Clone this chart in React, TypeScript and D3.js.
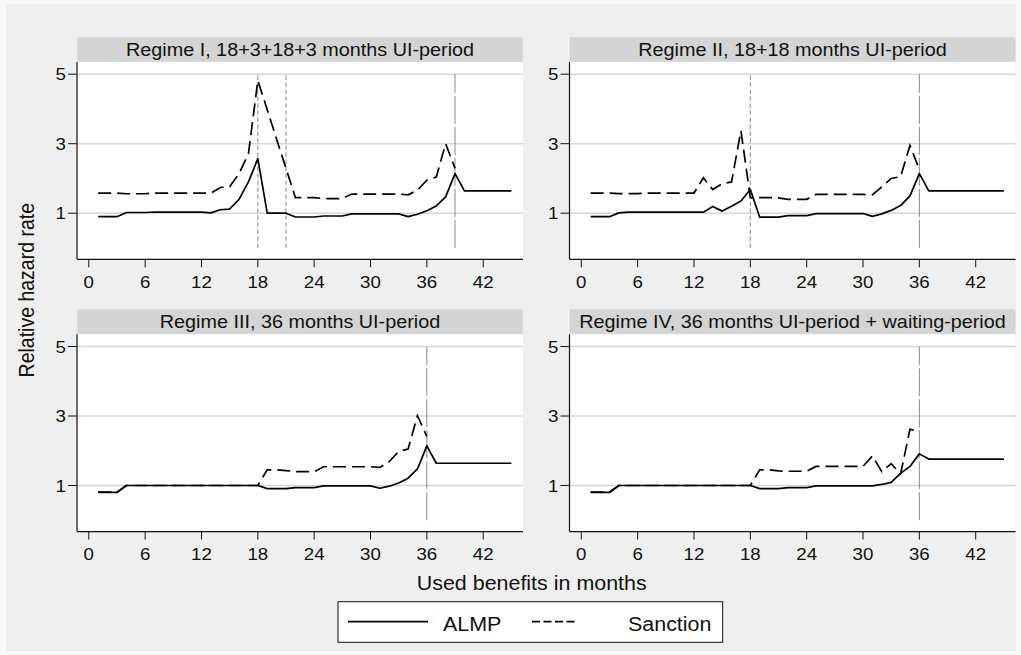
import React from 'react';
import * as d3 from 'd3';

const months = [1,2,3,4,5,6,7,8,9,10,11,12,13,14,15,16,17,18,19,20,21,22,23,24,25,26,27,28,29,30,31,32,33,34,35,36,37,38,39,40,41,42,43,44,45];
const xTicks = [0, 6, 12, 18, 24, 30, 36, 42];
const yTicks = [1, 3, 5];
const seriesNames = ['ALMP', 'Sanction'];
const titles = [
  'Regime I, 18+3+18+3 months UI-period',
  'Regime II, 18+18 months UI-period',
  'Regime III, 36 months UI-period',
  'Regime IV, 36 months UI-period + waiting-period',
];

const almpI = [0.90,0.90,0.90,1.02,1.02,1.02,1.03,1.03,1.03,1.03,1.03,1.03,1.01,1.10,1.12,1.40,1.90,2.57,1.00,1.00,1.00,0.89,0.89,0.89,0.92,0.92,0.92,0.98,0.98,0.98,0.98,0.98,0.98,0.90,0.97,1.07,1.21,1.47,2.14,1.64,1.64,1.64,1.64,1.64,1.64];
const sanctionI = [1.58,1.58,1.58,1.56,1.56,1.56,1.58,1.58,1.58,1.58,1.58,1.58,1.58,1.74,1.76,2.14,2.71,4.82,3.98,3.13,2.29,1.45,1.45,1.45,1.42,1.42,1.42,1.55,1.55,1.55,1.55,1.55,1.55,1.53,1.66,1.95,2.04,3.00,2.29];
const almpII = [0.90,0.90,0.90,1.01,1.03,1.03,1.03,1.03,1.03,1.03,1.03,1.03,1.03,1.19,1.06,1.20,1.35,1.68,0.885,0.885,0.885,0.93,0.93,0.93,0.99,0.99,0.99,0.99,0.99,0.99,0.91,0.98,1.08,1.22,1.50,2.14,1.64,1.64,1.64,1.64,1.64,1.64,1.64,1.64,1.64];
const sanctionII = [1.58,1.58,1.58,1.565,1.565,1.565,1.58,1.58,1.58,1.58,1.58,1.58,2.02,1.68,1.85,1.90,3.37,1.45,1.45,1.45,1.44,1.40,1.40,1.40,1.54,1.54,1.54,1.54,1.54,1.54,1.53,1.76,2.00,2.05,2.95,2.26];
const almpIII = [0.80,0.80,0.80,1.00,1.00,1.00,1.00,1.00,1.00,1.00,1.00,1.00,1.00,1.00,1.00,1.00,1.00,1.00,0.91,0.91,0.91,0.94,0.94,0.94,0.99,0.99,0.99,0.99,0.99,0.99,0.92,0.98,1.07,1.21,1.48,2.14,1.64,1.64,1.64,1.64,1.64,1.64,1.64,1.64,1.64];
const sanctionIII = [0.81,0.81,0.81,1.00,1.00,1.00,1.00,1.00,1.00,1.00,1.00,1.00,1.00,1.00,1.00,1.00,1.00,1.00,1.45,1.45,1.43,1.40,1.40,1.40,1.54,1.54,1.54,1.54,1.54,1.54,1.52,1.69,1.98,2.05,3.01,2.41];
const almpIV = [0.80,0.80,0.80,1.00,1.00,1.00,1.00,1.00,1.00,1.00,1.00,1.00,1.00,1.00,1.00,1.00,1.00,1.00,0.91,0.91,0.91,0.94,0.94,0.94,0.99,0.99,0.99,0.99,0.99,0.99,0.99,1.03,1.09,1.35,1.55,1.91,1.76,1.76,1.76,1.76,1.76,1.76,1.76,1.76,1.76];
const sanctionIV = [0.81,0.81,0.81,1.00,1.00,1.00,1.00,1.00,1.00,1.00,1.00,1.00,1.00,1.00,1.00,1.00,1.00,1.00,1.45,1.45,1.42,1.41,1.41,1.41,1.55,1.55,1.55,1.55,1.55,1.55,1.85,1.40,1.63,1.33,2.62,2.55];

const refShort = [[18, 21], [18], [], []];
const refLong = [[39], [36], [36], [36]];

const panels = [
  { almp: almpI, sanction: sanctionI },
  { almp: almpII, sanction: sanctionII },
  { almp: almpIII, sanction: sanctionIII },
  { almp: almpIV, sanction: sanctionIV },
];

const W = 1021, H = 655;
const SX = 1.1;
const FONT = '"Liberation Sans", Arial, Helvetica, sans-serif';
const colLeft = [77, 569.5];
const headerTop = [37, 309.3];
const headerH = 25;
const plotW = 446;
const plotH = 197.3;

function T({ x, y, size, anchor = 'start', rotate = false, children }: any) {
  return (
    <text
      transform={`translate(${x},${y}) scale(${SX},1)${rotate ? ' rotate(-90)' : ''}`}
      textAnchor={anchor}
      fontSize={size}
      fontFamily={FONT}
      fill="#111"
    >
      {children}
    </text>
  );
}

function Panel({ idx }: { idx: number }) {
  const col = idx % 2, row = Math.floor(idx / 2);
  const left = colLeft[col];
  const hTop = headerTop[row];
  const top = hTop + headerH;
  const bottom = top + plotH;
  const x = d3.scaleLinear().domain([0, 42]).range([left + 11.8, left + 11.8 + 394.4]);
  const y = d3.scaleLinear().domain([1, 5]).range([top + 151.2, top + 12.2]);
  const p = panels[idx];
  const line = d3.line<number>().x((_, i) => x(months[i])).y((d) => y(d));
  return (
    <g>
      <rect x={left} y={hTop} width={plotW} height={headerH} fill="#d4d4d4" stroke="#dde7ea" strokeWidth={1} />
      <T x={left + plotW / 2} y={hTop + 19} size={18} anchor="middle">{titles[idx]}</T>
      <rect x={left} y={top} width={plotW} height={plotH} fill="#ffffff" />
      {yTicks.map((t) => (
        <line key={'g' + t} x1={left} x2={left + plotW} y1={y(t)} y2={y(t)} stroke="#d6d6d6" strokeWidth={1.5} />
      ))}
      {refShort[idx].map((m) => (
        <line key={'rs' + m} x1={x(m)} x2={x(m)} y1={y(0)} y2={y(5)} stroke="#8a8a8a" strokeWidth={1} strokeDasharray="4.5,2.5" />
      ))}
      {refLong[idx].map((m) => (
        <line key={'rl' + m} x1={x(m)} x2={x(m)} y1={y(0)} y2={y(5)} stroke="#8a8a8a" strokeWidth={1} strokeDasharray="28,3" />
      ))}
      <path d={line(p.almp) || ''} fill="none" stroke="#000" strokeWidth={1.7} strokeLinejoin="round" />
      <path d={line(p.sanction) || ''} fill="none" stroke="#000" strokeWidth={1.7} strokeDasharray="13,6" />
      <line x1={left} x2={left} y1={top} y2={bottom} stroke="#111" strokeWidth={1.2} />
      <line x1={left} x2={left + plotW} y1={bottom} y2={bottom} stroke="#111" strokeWidth={1.2} />
      {yTicks.map((t) => (
        <g key={'yt' + t}>
          <line x1={left - 9} x2={left} y1={y(t)} y2={y(t)} stroke="#111" strokeWidth={1} />
          <T x={left - 11} y={y(t) + 6} size={17} anchor="end">{String(t)}</T>
        </g>
      ))}
      {xTicks.map((t) => (
        <g key={'xt' + t}>
          <line x1={x(t)} x2={x(t)} y1={bottom} y2={bottom + 8} stroke="#111" strokeWidth={1} />
          <T x={x(t)} y={bottom + 28.5} size={17} anchor="middle">{String(t)}</T>
        </g>
      ))}
    </g>
  );
}

export default function App() {
  return (
    <svg width={W} height={H} style={{ position: 'absolute', left: 0, top: 0, display: 'block' }}>
      <rect x={0} y={0} width={W} height={H} fill="#f8f8f8" />
      <rect x={6} y={4} width={1010} height={647} fill="#efefef" />
      {[0, 1, 2, 3].map((i) => <Panel key={i} idx={i} />)}
      <T x={33.5} y={203} size={19.5} anchor="end" rotate>Relative hazard rate</T>
      <T x={531.7} y={590} size={19.5} anchor="middle">Used benefits in months</T>
      <rect x={338} y={601.7} width={384.7} height={40.6} fill="#fff" stroke="#111" strokeWidth={1} />
      <line x1={348} x2={428} y1={621.7} y2={621.7} stroke="#000" strokeWidth={1.7} />
      <T x={443} y={630.5} size={19.5}>{seriesNames[0]}</T>
      <line x1={532} x2={578} y1={621.7} y2={621.7} stroke="#000" strokeWidth={1.7} strokeDasharray="8,3.5" />
      <T x={628} y={630.5} size={19.5}>{seriesNames[1]}</T>
    </svg>
  );
}
